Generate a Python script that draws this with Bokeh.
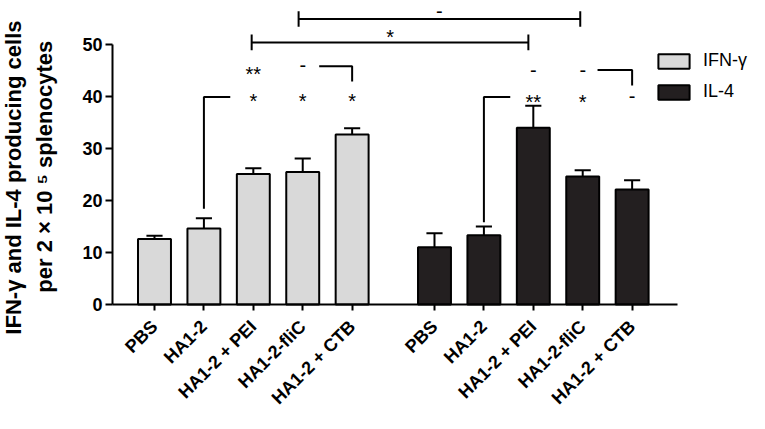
import math
from bokeh.plotting import figure
from bokeh.models import Range1d, FixedTicker, Legend, LegendItem, Label
from bokeh.core.properties import value
from bokeh.embed import file_html
from bokeh.resources import INLINE

# ---------------- data ----------------
groups = ["PBS", "HA1-2", "HA1-2 + PEI", "HA1-2-fliC", "HA1-2 + CTB"]
series = ["IFN-γ", "IL-4"]
ifn_mean = [12.6, 14.6, 25.1, 25.5, 32.7]
ifn_err = [0.6, 2.0, 1.1, 2.6, 1.2]
il4_mean = [11.0, 13.3, 34.0, 24.6, 22.1]
il4_err = [2.7, 1.7, 4.2, 1.2, 1.8]
y_ticks = [0, 10, 20, 30, 40, 50]

# significance marks: (series index, group index, y, text)
marks = [
    (0, 2, 45.2, "**"), (0, 2, 40.0, "*"), (0, 3, 45.7, "-"), (0, 3, 40.0, "*"), (0, 4, 40.0, "*"),
    (1, 2, 44.9, "-"), (1, 2, 39.8, "**"), (1, 3, 44.9, "-"), (1, 3, 39.8, "*"), (1, 4, 39.8, "-"),
]

SLOT = 3.0      # units between neighbouring bars
GROUP_OFF = 17  # offset of second series
def pos(s, g):
    return GROUP_OFF * s + SLOT * g

ifn_x = [pos(0, g) for g in range(len(groups))]
il4_x = [pos(1, g) for g in range(len(groups))]

FONT = "Liberation Sans"
W, H = 749, 413
AX_LEFT = 112      # canvas x of the y axis
AX_BOTTOM = 304    # canvas y of the x axis
PXX = 16.47        # px per x unit
PXY = 5.2          # px per y unit
XA = -2.55         # x value at the y axis
X0 = XA - AX_LEFT / PXX
X1 = XA + (W - AX_LEFT) / PXX
Y0 = -(H - AX_BOTTOM) / PXY
Y1 = AX_BOTTOM / PXY

p = figure(width=W, height=H, output_backend="svg", toolbar_location=None,
           x_range=Range1d(X0, X1), y_range=Range1d(Y0, Y1),
           min_border_left=0, min_border_right=0, min_border_top=0, min_border_bottom=0)
p.outline_line_color = None
p.xgrid.visible = False
p.ygrid.visible = False
p.background_fill_color = "white"

bw = 2.0
r_ifn = p.vbar(x=ifn_x, top=ifn_mean, bottom=0, width=bw, fill_color="#d9d9d9",
               line_color="black", line_width=2)
r_il4 = p.vbar(x=il4_x, top=il4_mean, bottom=0, width=bw, fill_color="#231f20",
               line_color="black", line_width=2)

# error bars (upper only)
cap = 0.49
for xs, m, e in [(ifn_x, ifn_mean, ifn_err), (il4_x, il4_mean, il4_err)]:
    up = [a + b for a, b in zip(m, e)]
    p.segment(x0=xs, y0=m, x1=xs, y1=up, line_color="black", line_width=2)
    p.segment(x0=[x - cap for x in xs], y0=up, x1=[x + cap for x in xs], y1=up,
              line_color="black", line_width=2)

# brackets
br_xs = [
    [pos(0, 1), pos(0, 1), pos(0, 1) + 1.6],
    [pos(0, 3) + 1.0, pos(0, 4), pos(0, 4)],
    [pos(1, 1), pos(1, 1), pos(1, 1) + 1.6],
    [pos(1, 3) + 0.9, pos(1, 4), pos(1, 4)],
]
br_ys = [
    [18.4, 39.9, 39.9],
    [45.8, 45.8, 42.9],
    [15.8, 39.9, 39.9],
    [45.1, 45.1, 42.1],
]
p.multi_line(xs=br_xs, ys=br_ys, line_color="black", line_width=2)

tops = [
    (pos(0, 2) - 0.1, pos(1, 2) - 0.3, 50.4),
    (pos(0, 3) - 0.25, pos(1, 3) - 0.15, 54.9),
]
for xa, xb, yy in tops:
    p.segment(x0=[xa], y0=[yy], x1=[xb], y1=[yy], line_color="black", line_width=2)
    p.segment(x0=[xa, xb], y0=[yy - 1.5, yy - 1.5], x1=[xa, xb], y1=[yy + 1.5, yy + 1.5],
              line_color="black", line_width=2)

# text marks: place baseline so that the glyph's visual centre sits at y
FS = 20
def base(y, t):
    k = 0.585 if "*" in t else 0.275
    return y - k * FS / PXY + 7 / PXY

mx, my, mt = [], [], []
for s, g, y, t in marks:
    mx.append(pos(s, g)); my.append(base(y, t)); mt.append(t)
mx.append((tops[0][0] + tops[0][1]) / 2); my.append(base(52.3, "*")); mt.append("*")
mx.append((tops[1][0] + tops[1][1]) / 2); my.append(base(56.2, "-")); mt.append("-")
p.text(x=mx, y=my, text=mt, text_align="center", text_baseline="alphabetic",
       text_font=value(FONT), text_font_size=f"{FS}px", text_color="black")

# axes (placed inside the full-canvas frame)
for ax in (p.xaxis[0], p.yaxis[0]):
    ax.axis_line_width = 2
    ax.major_tick_line_width = 2
    ax.minor_tick_line_color = None
    ax.major_label_text_font = FONT
    ax.major_label_text_font_style = "bold"
    ax.major_label_text_font_size = "18px"
    ax.major_label_text_color = "black"
    ax.axis_line_color = "black"
    ax.major_tick_line_color = "black"

p.yaxis.ticker = FixedTicker(ticks=y_ticks)
p.yaxis.bounds = (0, 50)
p.yaxis.fixed_location = XA
p.yaxis.major_tick_in = 0
p.yaxis.major_tick_out = 7
p.yaxis.major_label_standoff = 3

p.xaxis.ticker = FixedTicker(ticks=ifn_x + il4_x)
p.xaxis.bounds = (XA, 31.75)
p.xaxis.fixed_location = 0
p.xaxis.major_tick_in = 0
p.xaxis.major_tick_out = 6
p.xaxis.major_label_standoff = 13
p.xaxis.major_label_text_font_size = "18px"
p.xaxis.major_label_orientation = math.pi / 4
p.xaxis.major_label_overrides = {int(x): g for x, g in zip(ifn_x + il4_x, groups + groups)}

# y axis title (two lines)
def xcanvas(c):
    return X0 + c / PXX

p.add_layout(Label(x=xcanvas(13), y=25, text="IFN-γ  and IL-4 producing cells", angle=math.pi / 2,
                   text_align="center", text_baseline="middle", text_color="black",
                   text_font=FONT, text_font_style="bold", text_font_size="22px"))
p.add_layout(Label(x=xcanvas(44), y=26.5, text="per 2 × 10 ⁵ splenocytes", angle=math.pi / 2,
                   text_align="center", text_baseline="middle", text_color="black",
                   text_font=FONT, text_font_style="bold", text_font_size="22px"))

legend = Legend(items=[LegendItem(label=series[0], renderers=[r_ifn]),
                       LegendItem(label=series[1], renderers=[r_il4])],
                location=(654, 311))
legend.border_line_color = None
legend.background_fill_alpha = 0
legend.glyph_width = 39
legend.glyph_height = 18
legend.label_standoff = 10
legend.label_text_font = FONT
legend.label_text_font_size = "18px"
legend.label_text_color = "black"
legend.label_height = 20
legend.spacing = 10
legend.padding = 0
legend.margin = 0
p.add_layout(legend)

open("out.html", "w").write(file_html(p, INLINE))
